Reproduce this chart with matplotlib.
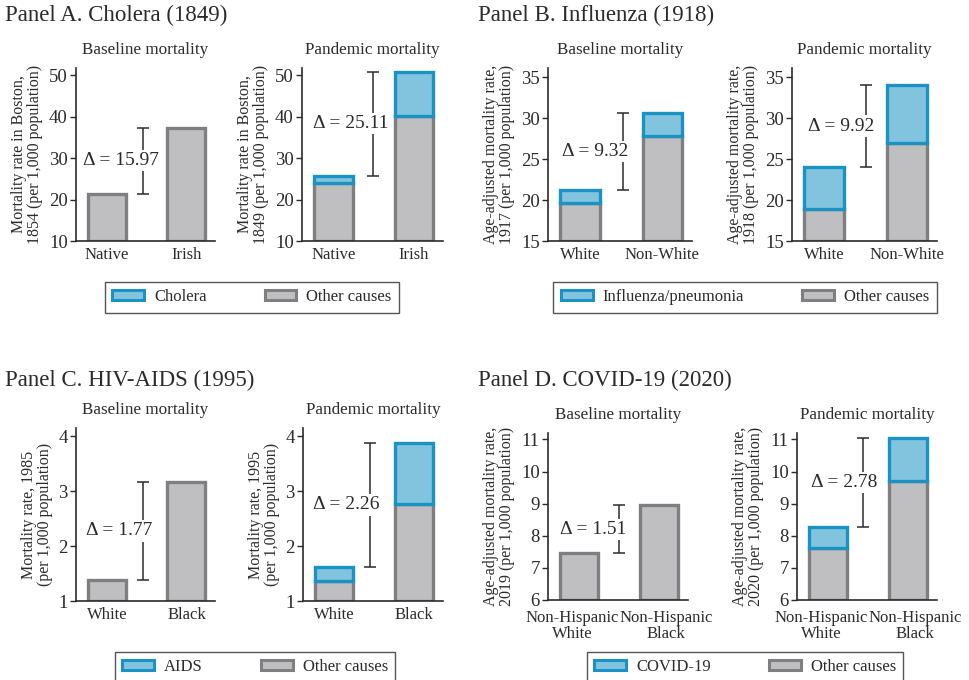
import matplotlib
matplotlib.use("Agg")
import matplotlib.pyplot as plt
from matplotlib.patches import Patch
from matplotlib.transforms import ScaledTranslation

# Data (rates per 1,000 population)
groups_a = ["Native", "Irish"]
cholera_base_other = [21.4, 37.37]
cholera_pand_other = [24.05, 40.2]
cholera_pand_disease = [1.75, 10.71]
cholera_deltas = ["15.97", "25.11"]

groups_b = ["White", "Non-White"]
flu_base_other = [19.6, 27.8]
flu_base_disease = [1.65, 2.77]
flu_pand_other = [18.9, 27.0]
flu_pand_disease = [5.16, 6.98]
flu_deltas = ["9.32", "9.92"]

groups_c = ["White", "Black"]
aids_base_other = [1.39, 3.16]
aids_pand_other = [1.365, 2.77]
aids_pand_disease = [0.255, 1.11]
aids_deltas = ["1.77", "2.26"]

groups_d = ["Non-Hispanic\nWhite", "Non-Hispanic\nBlack"]
covid_base_other = [7.45, 8.96]
covid_pand_other = [7.62, 9.7]
covid_pand_disease = [0.65, 1.35]
covid_deltas = ["1.51", "2.78"]

GRAY_FILL, GRAY_EDGE = "#bfbfc1", "#7f7f81"
BLUE_FILL, BLUE_EDGE = "#82c4de", "#1a92c3"
INK = "#2b2b2b"

plt.rcParams["font.family"] = ["Liberation Serif", "DejaVu Serif"]

fig = plt.figure(figsize=(9.7, 6.8), dpi=100)
W, H = 970.0, 680.0


def add_ax(left, top, right, bottom):
    return fig.add_axes([left / W, 1 - bottom / H, (right - left) / W, (bottom - top) / H])


def draw(ax, groups, other, disease, ylim, ticks, ylabel, title, delta, bracket_x,
         text_x=0.18, spread=0, xpad=4):
    base = ylim[0]
    x = list(range(len(groups)))
    ax.bar(x, [v - base for v in other], bottom=base, width=0.48,
           color=GRAY_FILL, edgecolor=GRAY_EDGE, linewidth=2.4)
    if disease is not None:
        ax.bar(x, disease, bottom=other, width=0.48,
               color=BLUE_FILL, edgecolor=BLUE_EDGE, linewidth=2.4)
        tops = [o + d for o, d in zip(other, disease)]
    else:
        tops = list(other)
    ax.set_xlim(-0.39, 1.36)
    ax.set_ylim(*ylim)
    ax.set_yticks(ticks)
    ax.set_xticks(x)
    ax.set_xticklabels(groups, fontsize=12, color=INK, linespacing=1.0)
    ax.tick_params(axis="x", length=0, pad=xpad)
    ax.tick_params(axis="y", length=4, width=1, labelsize=13.5, colors=INK, pad=2)
    if spread:
        for lab, sgn in zip(ax.get_xticklabels(), [-1, 1]):
            lab.set_transform(lab.get_transform() +
                              ScaledTranslation(sgn * spread / 100, 0, fig.dpi_scale_trans))
    for s in ["top", "right"]:
        ax.spines[s].set_visible(False)
    for s in ["left", "bottom"]:
        ax.spines[s].set_color(INK)
        ax.spines[s].set_linewidth(1.2)
    ax.set_ylabel(ylabel, fontsize=11.5, color=INK, labelpad=4, linespacing=1.0)
    ax.set_title(title, fontsize=12.3, color=INK, pad=10)

    # bracket showing the gap between the two groups
    lo, hi = tops[0], tops[1]
    ax.errorbar([bracket_x], [(lo + hi) / 2], yerr=[[(hi - lo) / 2], [(hi - lo) / 2]],
                fmt="none", ecolor=INK, elinewidth=1.1, capsize=4, capthick=1.1)
    ax.text(text_x, (lo + hi) / 2, "\u0394 = " + delta, ha="center", va="center",
            fontsize=14, color=INK,
            bbox=dict(facecolor="white", edgecolor="none", pad=1.5))


# Panel A
ax = add_ax(76, 68, 215, 241)
draw(ax, groups_a, cholera_base_other, None, (10, 51.8), [10, 20, 30, 40, 50],
     "Mortality rate in Boston,\n1854 (per 1,000 population)", "Baseline mortality",
     cholera_deltas[0], 0.45, 0.18)
ax = add_ax(302, 68, 443, 241)
draw(ax, groups_a, cholera_pand_other, cholera_pand_disease, (10, 51.8), [10, 20, 30, 40, 50],
     "Mortality rate in Boston,\n1849 (per 1,000 population)", "Pandemic mortality",
     cholera_deltas[1], 0.49, 0.21)

# Panel B
ax = add_ax(548, 68, 692, 241)
draw(ax, groups_b, flu_base_other, flu_base_disease, (15, 36.1), [15, 20, 25, 30, 35],
     "Age-adjusted mortality rate,\n1917 (per 1,000 population)", "Baseline mortality",
     flu_deltas[0], 0.52, 0.18)
ax = add_ax(792, 68, 937, 241)
draw(ax, groups_b, flu_pand_other, flu_pand_disease, (15, 36.1), [15, 20, 25, 30, 35],
     "Age-adjusted mortality rate,\n1918 (per 1,000 population)", "Pandemic mortality",
     flu_deltas[1], 0.5, 0.2)

# Panel C
ax = add_ax(76, 428, 215, 601)
draw(ax, groups_c, aids_base_other, None, (1, 4.15), [1, 2, 3, 4],
     "Mortality rate, 1985\n(per 1,000 population)", "Baseline mortality",
     aids_deltas[0], 0.45, 0.15)
ax = add_ax(303, 428, 443, 601)
draw(ax, groups_c, aids_pand_other, aids_pand_disease, (1, 4.15), [1, 2, 3, 4],
     "Mortality rate, 1995\n(per 1,000 population)", "Pandemic mortality",
     aids_deltas[1], 0.45, 0.15)

# Panel D
ax = add_ax(548, 433, 688, 600)
draw(ax, groups_d, covid_base_other, None, (6, 11.2), [6, 7, 8, 9, 10, 11],
     "Age-adjusted mortality rate,\n2019 (per 1,000 population)", "Baseline mortality",
     covid_deltas[0], 0.5, 0.17, spread=7, xpad=7)
ax = add_ax(797, 433, 937, 600)
draw(ax, groups_d, covid_pand_other, covid_pand_disease, (6, 11.2), [6, 7, 8, 9, 10, 11],
     "Age-adjusted mortality rate,\n2020 (per 1,000 population)", "Pandemic mortality",
     covid_deltas[1], 0.44, 0.2, spread=7, xpad=7)

# Panel headings
for x0, y0, txt in [(5, 15, "Panel A. Cholera (1849)"), (478, 15, "Panel B. Influenza (1918)"),
                    (5, 380, "Panel C. HIV-AIDS (1995)"), (478, 380, "Panel D. COVID-19 (2020)")]:
    fig.text(x0 / W, 1 - y0 / H, txt, fontsize=16.5, color=INK, ha="left", va="center")

# Legends
for cx, cy, name in [(252, 297, "Cholera"), (745, 297, "Influenza/pneumonia"),
                     (255, 667, "AIDS"), (745, 667, "COVID-19")]:
    handles = [Patch(facecolor=BLUE_FILL, edgecolor=BLUE_EDGE, linewidth=2.2),
               Patch(facecolor=GRAY_FILL, edgecolor=GRAY_EDGE, linewidth=2.2)]
    leg = fig.legend(handles, [name, "Other causes"], loc="center",
                     bbox_to_anchor=(cx / W, 1 - cy / H), ncol=2, fontsize=12,
                     frameon=True, fancybox=False, edgecolor=INK, handlelength=1.9,
                     handleheight=0.55, columnspacing=3.5, borderpad=0.45, handletextpad=0.6)
    leg.get_frame().set_linewidth(1.0)
    for t in leg.get_texts():
        t.set_color(INK)

fig.savefig("out.png", dpi=100)
